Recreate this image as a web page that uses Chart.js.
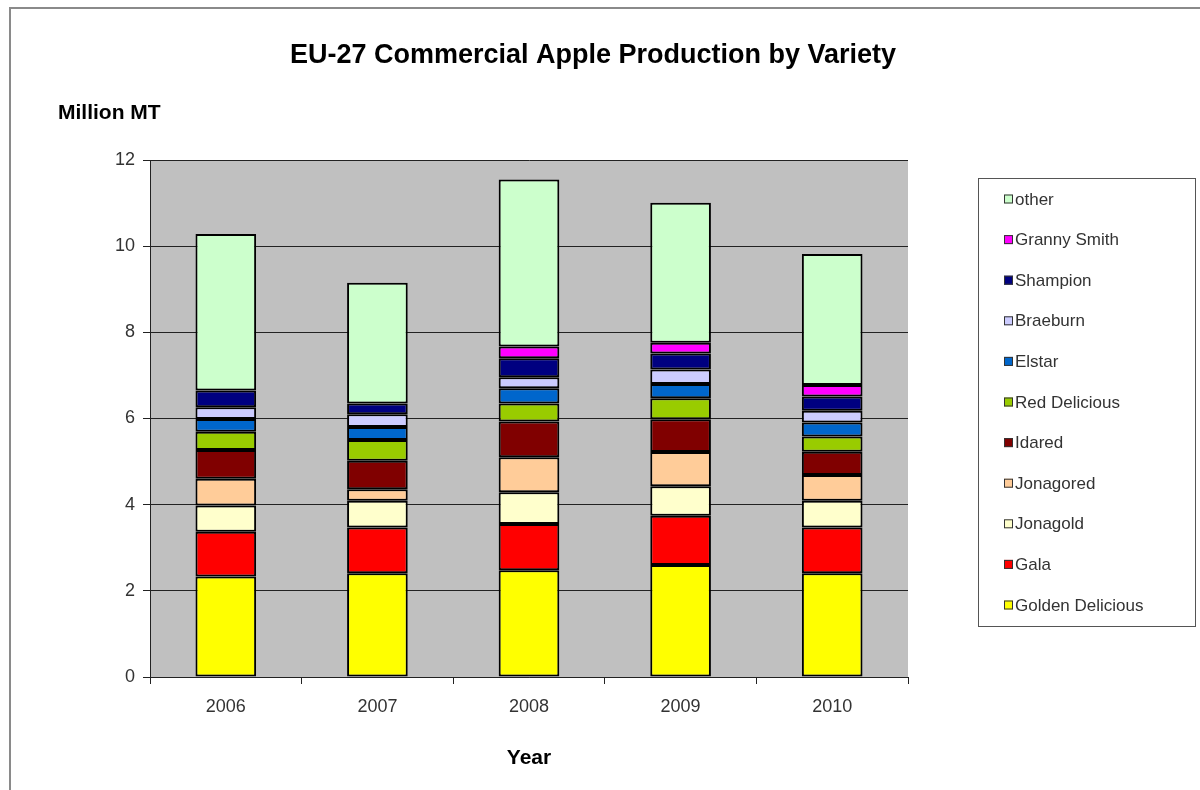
<!DOCTYPE html>
<html>
<head>
<meta charset="utf-8">
<script src="https://cdn.jsdelivr.net/npm/chart.js@4"></script>
<style>
  html, body { margin: 0; padding: 0; background: #fff; }
  #wrap { width: 1200px; height: 790px; position: relative; }
</style>
</head>
<body>
<div id="wrap"><canvas id="chartApple" width="1200" height="790"></canvas></div>
<script>
const years = ["2006", "2007", "2008", "2009", "2010"];

// Million MT, bottom to top of each stack
const goldenDelicious = [2.33, 2.41, 2.48, 2.60, 2.41];
const gala            = [1.04, 1.06, 1.07, 1.14, 1.06];
const jonagold        = [0.61, 0.62, 0.74, 0.69, 0.62];
const jonagored       = [0.62, 0.27, 0.81, 0.79, 0.60];
const idared          = [0.67, 0.66, 0.83, 0.76, 0.54];
const redDelicious    = [0.42, 0.48, 0.42, 0.49, 0.35];
const elstar          = [0.30, 0.30, 0.35, 0.33, 0.33];
const braeburn        = [0.27, 0.30, 0.26, 0.34, 0.27];
const shampion        = [0.39, 0.25, 0.44, 0.37, 0.33];
const grannySmith     = [0.00, 0.00, 0.27, 0.25, 0.27];
const other           = [3.63, 2.80, 3.88, 3.25, 3.04];

const yTicks = [0, 2, 4, 6, 8, 10, 12];

const varieties = [
    { label: "Golden Delicious", data: goldenDelicious, color: "#ffff00" },
    { label: "Gala",             data: gala,            color: "#ff0000" },
    { label: "Jonagold",         data: jonagold,        color: "#ffffcc" },
    { label: "Jonagored",        data: jonagored,       color: "#ffcc99" },
    { label: "Idared",           data: idared,          color: "#800000" },
    { label: "Red Delicious",    data: redDelicious,    color: "#99cc00" },
    { label: "Elstar",           data: elstar,          color: "#0066cc" },
    { label: "Braeburn",         data: braeburn,        color: "#ccccff" },
    { label: "Shampion",         data: shampion,        color: "#000080" },
    { label: "Granny Smith",     data: grannySmith,     color: "#ff00ff" },
    { label: "other",            data: other,           color: "#ccffcc" }
];

const FONT = "'Liberation Sans', Arial, sans-serif";

const decorPlugin = {
    id: "decor",
    beforeDraw(chart) {
        const { ctx, chartArea } = chart;
        ctx.save();
        ctx.fillStyle = "#c0c0c0";
        ctx.fillRect(chartArea.left, chartArea.top, chartArea.right - chartArea.left, chartArea.bottom - chartArea.top);
        // outer frame
        ctx.strokeStyle = "#8a8a8a";
        ctx.lineWidth = 2;
        ctx.beginPath();
        ctx.moveTo(10, 790);
        ctx.lineTo(10, 8);
        ctx.lineTo(1200, 8);
        ctx.stroke();
        ctx.restore();
    },
    afterDraw(chart) {
        const { ctx, chartArea } = chart;
        ctx.save();
        ctx.fillStyle = "#000";
        ctx.textBaseline = "middle";
        ctx.textAlign = "center";
        ctx.font = "bold 27px " + FONT;
        ctx.fillText("EU-27 Commercial Apple Production by Variety", 593, 56);
        ctx.textAlign = "left";
        ctx.font = "bold 21px " + FONT;
        ctx.fillText("Million MT", 58, 113);
        ctx.textAlign = "center";
        ctx.font = "bold 21px " + FONT;
        ctx.fillText("Year", (chartArea.left + chartArea.right) / 2, 758);

        // legend, top item = last dataset
        const lx = 978, ly = 178, lw = 217, lh = 448;
        ctx.fillStyle = "#fff";
        ctx.fillRect(lx, ly, lw, lh);
        ctx.strokeStyle = "#555";
        ctx.lineWidth = 1;
        ctx.strokeRect(lx + 0.5, ly + 0.5, lw, lh);
        const ds = chart.data.datasets;
        ctx.font = "17px " + FONT;
        ctx.textAlign = "left";
        for (let i = 0; i < ds.length; i++) {
            const d = ds[ds.length - 1 - i];
            const cy = ly + 21 + i * 40.6;
            ctx.fillStyle = d.backgroundColor;
            ctx.fillRect(1004, cy - 4.5, 9, 9);
            ctx.strokeStyle = "#333";
            ctx.strokeRect(1004.5, cy - 4, 8, 8);
            ctx.fillStyle = "#333";
            ctx.fillText(d.label, 1015, cy + 1);
        }
        ctx.restore();
    }
};

const ctx = document.getElementById("chartApple").getContext("2d");
new Chart(ctx, {
    type: "bar",
    data: {
        labels: years,
        datasets: varieties.map(v => ({
            label: v.label,
            data: v.data,
            backgroundColor: v.color,
            borderColor: "#000",
            // no outline for empty segments
            borderWidth: c => (c.raw ? 2 : 0),
            borderSkipped: false,
            barPercentage: 0.4,
            categoryPercentage: 1.0
        }))
    },
    options: {
        responsive: false,
        animation: false,
        layout: { padding: { left: 0, top: 160, right: 292, bottom: 0 } },
        plugins: {
            legend: { display: false },
            title: { display: false },
            tooltip: { enabled: false }
        },
        scales: {
            x: {
                stacked: true,
                afterFit: s => { s.height = 113; },
                grid: { display: true, drawOnChartArea: false, drawTicks: true, tickLength: 7, color: "#222", offset: true },
                border: { display: true, color: "#222", width: 1 },
                ticks: { color: "#333", font: { family: FONT, size: 18 }, padding: 12 }
            },
            y: {
                stacked: true,
                min: 0,
                max: 12,
                afterFit: s => { s.width = 150; },
                afterBuildTicks: s => { s.ticks = yTicks.map(v => ({ value: v })); },
                grid: { color: "#222", lineWidth: 1, drawTicks: true, tickLength: 7 },
                border: { display: true, color: "#222", width: 1 },
                ticks: { color: "#333", font: { family: FONT, size: 18 }, padding: 8 }
            }
        }
    },
    plugins: [decorPlugin]
});
</script>
</body>
</html>
